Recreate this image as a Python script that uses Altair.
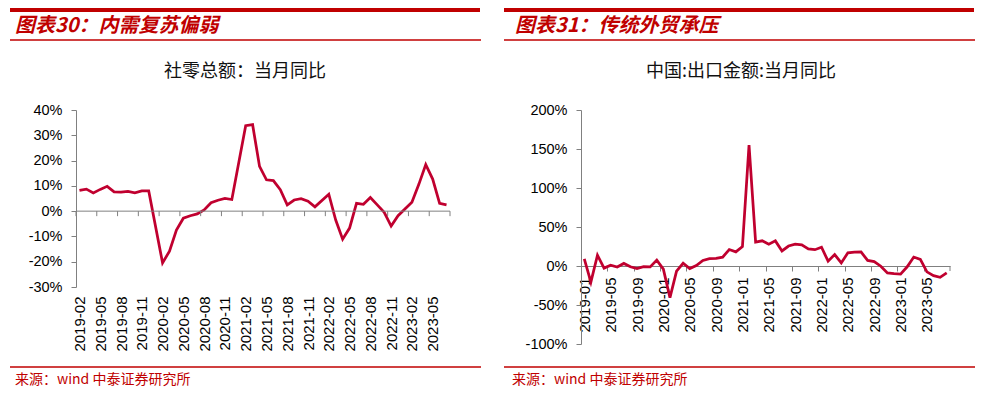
import altair as alt
import pandas as pd


def month_range(y0, m0, y1, m1):
    out = []
    y, m = y0, m0
    while (y, m) <= (y1, m1):
        out.append(f"{y}-{m:02d}")
        m += 1
        if m > 12:
            y, m = y + 1, 1
    return out


# ---------------- data: left panel (社零总额：当月同比, %) ----------------
retail_axis_months = month_range(2019, 2, 2023, 7)          # category axis
retail_months = [m for m in retail_axis_months if not m.endswith("-01")]  # Jan merged into Feb
retail_yoy = [
    8.2, 8.7, 7.2, 8.6, 9.8, 7.6, 7.5, 7.8, 7.2, 8.0, 8.0,
    -20.5, -15.8, -7.5, -2.8, -1.8, -1.1, 0.5, 3.3, 4.3, 5.0, 4.6,
    33.8, 34.2, 17.7, 12.4, 12.1, 8.5, 2.5, 4.4, 4.9, 3.9, 1.7,
    6.7, -3.5, -11.1, -6.7, 3.1, 2.7, 5.4, 2.5, -0.5, -5.9, -1.8,
    3.5, 10.6, 18.4, 12.7, 3.1, 2.5,
]
retail_tick_labels = retail_axis_months[::3]
retail_y_ticks = [-30, -20, -10, 0, 10, 20, 30, 40]

# ---------------- data: right panel (中国:出口金额:当月同比, %) ----------------
export_months = month_range(2019, 1, 2023, 8)
export_yoy = [
    9.1, -20.7, 13.8, -2.7, 1.1, -1.3, 3.3, -1.0, -3.2, -0.9, -1.1, 7.6,
    -4.0, -40.6, -6.6, 3.5, -3.3, 0.5, 7.2, 9.5, 9.9, 11.4, 21.1, 18.1,
    24.9, 154.9, 30.6, 32.3, 27.9, 32.2, 19.3, 25.6, 28.1, 27.1, 22.0, 20.9,
    24.0, 6.2, 14.7, 3.9, 16.9, 17.9, 18.0, 7.1, 5.7, -0.3, -8.9, -9.9,
    -10.5, -1.0, 11.5, 8.5, -7.5, -12.4, -14.5, -8.8,
]
export_tick_labels = export_months[::4]
export_y_ticks = [-100, -50, 0, 50, 100, 150, 200]

# ---------------- styles ----------------
RED = "#C00000"
LINE = "#C0002F"
GRAY = "#808080"
CJK = "Noto Sans CJK SC"
LAT = "Liberation Sans"

one = pd.DataFrame({"k": [0]})


def hrule(x1, x2, y, sw):
    return alt.Chart(one).mark_rule(color=RED, strokeWidth=sw).encode(
        x=alt.value(x1), x2=alt.value(x2), y=alt.value(y)
    )


def text(txt, x, y, size, align="left", color="#000000", **kw):
    return alt.Chart(one).mark_text(
        text=txt, align=align, baseline="middle", font=CJK, fontSize=size, color=color, **kw
    ).encode(x=alt.value(x), y=alt.value(y))


def decorations(x_left, x_right, header, header_x, subtitle, sub_x, foot_x):
    return [
        hrule(x_left, x_right, -100, 4),
        text(header, header_x, -84, 20, color=RED, fontWeight="bold", fontStyle="italic"),
        hrule(x_left, x_right + 1, -70, 1.5),
        text(subtitle, sub_x, -38, 18, align="center", color="#111111"),
        hrule(x_left, x_right + 1, 257, 1.5),
        text("来源：wind 中泰证券研究所", foot_x, 270, 14, color=RED),
    ]


def y_axis(values):
    return alt.Axis(
        values=values, labelExpr="datum.value + '%'", title=None, grid=False,
        domainColor=GRAY, tickColor=GRAY, tickSize=5, labelPadding=9,
        labelFont=LAT, labelFontSize=14.5, labelColor="#000000",
    )


# ---------------- left panel ----------------
W_L, H_L = 374, 177
step_l = W_L / len(retail_axis_months)
xs_l = alt.Scale(type="point", domain=retail_axis_months, padding=0.5)
ys_l = alt.Scale(domain=[-30, 40], nice=False, zero=False)
xa_l = alt.Axis(
    values=retail_tick_labels, labelAngle=270, domain=False, ticks=False, tickSize=0,
    labelPadding=9, title=None, grid=False, labelFont=LAT, labelFontSize=15,
    labelColor="#000000", labelOverlap=False,
)
ya_l = y_axis(retail_y_ticks)

df_l = pd.DataFrame({"month": retail_months, "yoy": retail_yoy})

line_l = alt.Chart(df_l).mark_line(color=LINE, strokeWidth=2.75).encode(
    x=alt.X("month:O", scale=xs_l, axis=xa_l),
    y=alt.Y("yoy:Q", scale=ys_l, axis=ya_l),
)
zero_l = alt.Chart(one).mark_rule(color=GRAY, strokeWidth=1).encode(
    y=alt.YDatum(0, scale=ys_l, axis=ya_l, title=None)
)
ticks_l = alt.Chart(pd.DataFrame({"month": retail_tick_labels})).mark_rule(
    color=GRAY, strokeWidth=1, xOffset=-step_l / 2, y2Offset=5
).encode(
    x=alt.X("month:O", scale=xs_l, axis=xa_l),
    y=alt.YDatum(0, scale=ys_l, axis=ya_l, title=None),
    y2=alt.datum(0),
)
end_tick_l = alt.Chart(one).mark_rule(color=GRAY, strokeWidth=1, y2Offset=5).encode(
    x=alt.value(W_L), y=alt.YDatum(0, scale=ys_l, axis=ya_l, title=None), y2=alt.datum(0)
)

left = alt.layer(
    line_l, zero_l, ticks_l, end_tick_l,
    *decorations(-66, 404, "图表30：内需复苏偏弱", -61, "社零总额：当月同比", 169, -61),
).properties(width=W_L, height=H_L)

# ---------------- right panel ----------------
W_R, H_R = 369, 234
step_r = W_R / len(export_months)
xs_r = alt.Scale(type="point", domain=export_months, padding=0.5)
ys_r = alt.Scale(domain=[-100, 200], nice=False, zero=False)
zero_offset = -H_R * (0 - (-100)) / (200 - (-100))
xa_r = alt.Axis(
    values=export_tick_labels, labelAngle=270, offset=zero_offset,
    tickOffset=-step_r / 2, labelOffset=step_r / 2, tickSize=5,
    domainColor=GRAY, tickColor=GRAY, labelPadding=6, title=None, grid=False,
    labelFont=LAT, labelFontSize=15, labelColor="#000000", labelOverlap=False,
)
ya_r = y_axis(export_y_ticks)

df_r = pd.DataFrame({"month": export_months, "yoy": export_yoy})

line_r = alt.Chart(df_r).mark_line(color=LINE, strokeWidth=2.75).encode(
    x=alt.X("month:O", scale=xs_r, axis=xa_r),
    y=alt.Y("yoy:Q", scale=ys_r, axis=ya_r),
)
end_tick_r = alt.Chart(one).mark_rule(color=GRAY, strokeWidth=1, y2Offset=5).encode(
    x=alt.value(W_R), y=alt.YDatum(0, scale=ys_r, axis=ya_r, title=None), y2=alt.datum(0)
)

right = alt.layer(
    line_r, end_tick_r,
    *decorations(-77, 393, "图表31：传统外贸承压", -66, "中国:出口金额:当月同比", 160, -69),
).properties(width=W_R, height=H_R)

chart = (
    alt.hconcat(left, right, spacing=20)
    .properties(padding=0, background="white")
    .configure_view(stroke=None)
)

chart.save("out.html", embed_options={"renderer": "svg", "actions": False})
